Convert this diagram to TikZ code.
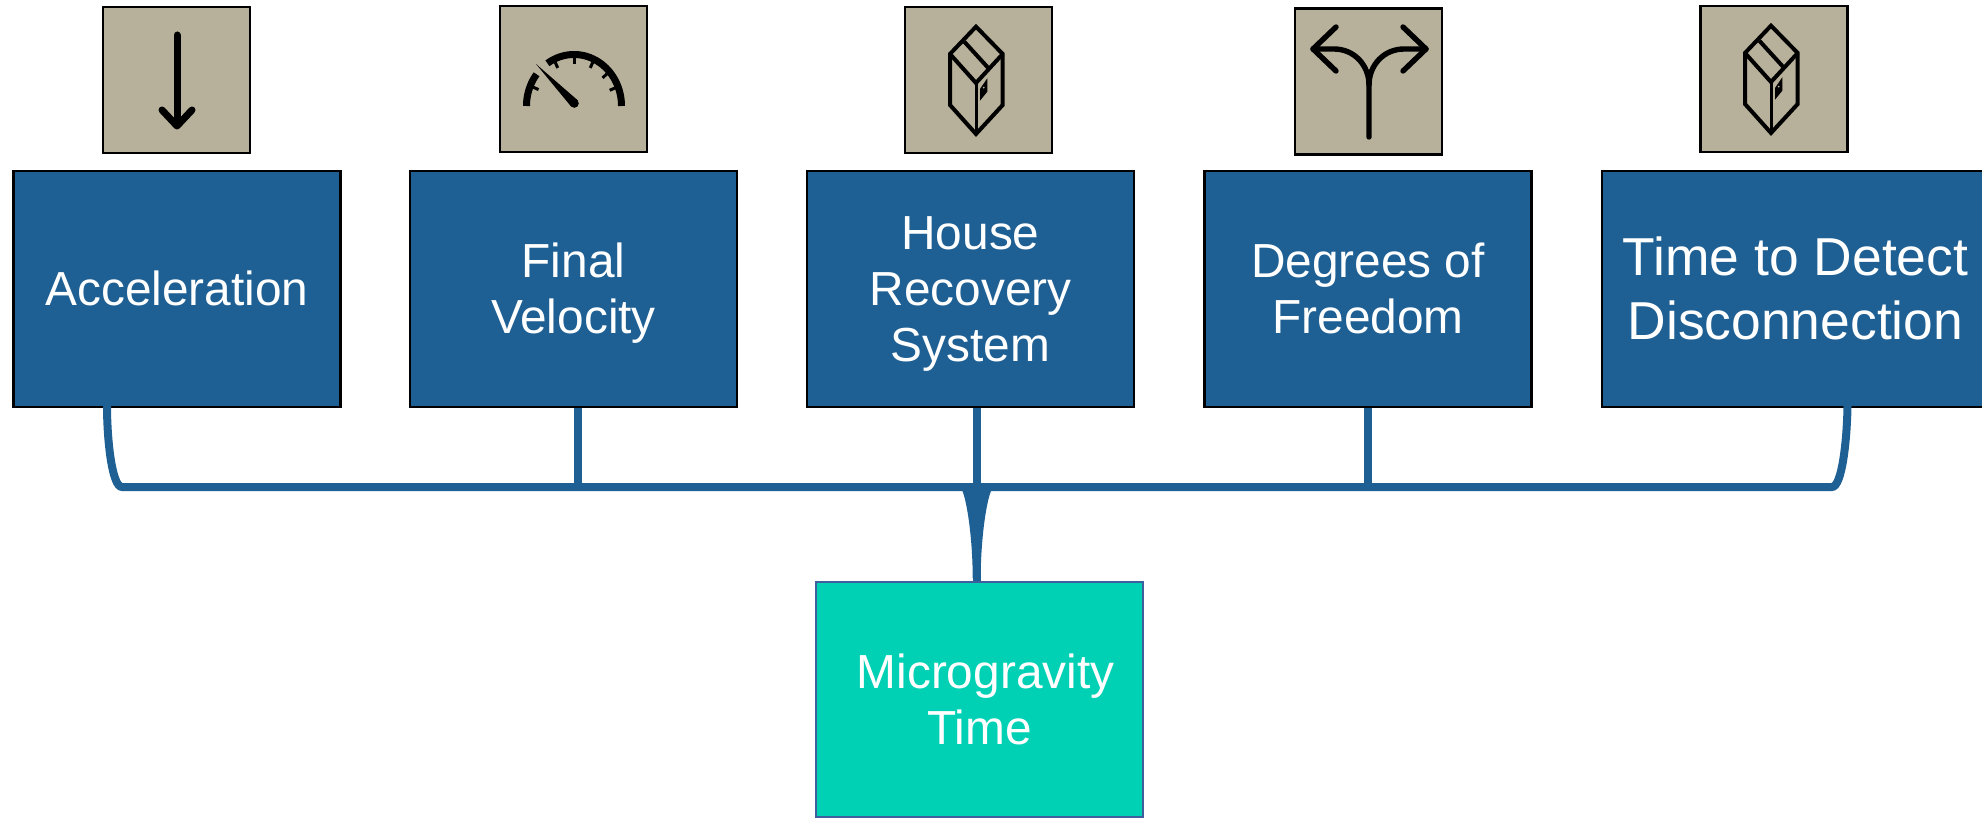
\documentclass[tikz,border=0pt]{standalone}
\usepackage{fontspec}
\setmainfont{Liberation Sans}
\definecolor{boxblue}{HTML}{1F6094}
\definecolor{iconbeige}{HTML}{B7B09A}
\definecolor{mintfill}{HTML}{00D1B5}
\definecolor{mintedge}{HTML}{3F5E9E}
\newcommand{\lna}{\rule[-11pt]{0pt}{56pt}}
\newcommand{\lnb}{\rule[-13pt]{0pt}{64pt}}
\tikzset{
  factor/.style={rectangle,draw=black,line width=2.4pt,fill=boxblue,text=white,inner sep=0pt,
    minimum width=327pt,minimum height=236pt,align=center,font=\fontsize{47.8}{56}\selectfont},
  iconbox/.style={rectangle,draw=black,line width=2.4pt,fill=iconbeige,inner sep=0pt,
    minimum width=147pt,minimum height=146pt},
  result/.style={rectangle,draw=mintedge,line width=2pt,fill=mintfill,text=white,inner sep=0pt,
    minimum width=327pt,minimum height=235pt,align=center,font=\fontsize{47.8}{56}\selectfont},
  link/.style={draw=boxblue,line width=8pt},
  glyph/.style={draw=black,line cap=round,line join=round},
  cabinet/.pic={
    \draw[black,line width=4pt,line join=miter]
      (0,-56.3)--(-26,-29)--(-26,22)--(0,51)--(26.7,22)--(26.7,-29)--cycle;
    \draw[black,line width=4pt] (-26,-29)--(0,0)--(26.7,-29);
    \draw[black,line width=4pt] (-11.7,-41.3)--(12,-15.3);
    \draw[black,line width=3pt] (0,0)--(0,51);
    \fill[black] (4,6)--(11.3,-4.7)--(11.3,8.7)--(4,17.7)--cycle;
    \fill[iconbeige] (7.7,4.7) circle (1pt);
  },
}
\begin{document}
\begin{tikzpicture}[x=1pt,y=-1pt]
\useasboundingbox (0,0) rectangle (1982,818);
\clip (0,0) rectangle (1982,818);

\node[factor] (a) at (177,289) {\lna Acceleration};
\node[factor] (b) at (573.5,289) {\lna Final\\\lna Velocity};
\node[factor] (c) at (970.5,289) {\lna House\\\lna Recovery\\\lna System};
\node[factor] (d) at (1368,289) {\lna Degrees of\\\lna Freedom};
\node[factor,minimum width=387pt,font=\fontsize{53.4}{64}\selectfont] (e) at (1795.5,289) {\lnb Time to Detect\\\lnb Disconnection};
\node[result] (m) at (979.5,699.5) {\lna\hspace*{12pt}Microgravity\\\lna Time};

\node[iconbox] (ia) at (176.5,80) {};
\node[iconbox] (ib) at (573.5,79) {};
\node[iconbox] (ic) at (978.75,80) {};
\node[iconbox] (id) at (1368.5,81.5) {};
\node[iconbox] (ie) at (1774,79) {};

% tree connectors
\coordinate (J) at (976.7,487);
\path[link] ([xshift=-70pt,yshift=2.5pt]a.south) .. controls (107,440) and (112,487) .. (122,487) -- (J);
\path[link] ([xshift=4pt]b.south) -- (b.south -| 577.5,487) -- (577.5,487);
\path[link] ([xshift=6.2pt]c.south) -- ([xshift=-2.8pt]m.north);
\path[link] (d.south) -- (1368,487);
\path[link] ([xshift=52pt,yshift=2.5pt]e.south) .. controls (1847,440) and (1842,487) .. (1832,487) -- (J);
\fill[boxblue] (961,488) .. controls (967,498) and (972.7,540) .. (972.7,578) -- (980.7,578) .. controls (980.7,540) and (986.4,498) .. (992.4,488) -- cycle;

% arrow-down glyph
\draw[glyph,line width=7pt] (177,35) -- (177,125);
\draw[glyph,line width=7pt] (162,110) -- (177,126) -- (192,110);

% gauge glyph
\draw[black,line width=7pt] plot[domain=0:124,samples=50] ({574+47.5*cos(\x)},{106-51.5*sin(\x)});
\draw[black,line width=7pt] plot[domain=142:180,samples=20] ({574+47.5*cos(\x)},{106-51.5*sin(\x)});
\foreach \t in {22,42,65,90,115,157}
  \draw[black,line width=3pt] ({574+47.5*cos(\t)},{106-51.5*sin(\t)}) -- ({574+38.5*cos(\t)},{106-42*sin(\t)});
\fill[black] (536,64) -- (577.5,100.1) -- (571.1,106.5) -- cycle;
\fill[black] (574.3,103.3) circle (4.5pt);

% cabinet glyphs
\pic at (976,83) {cabinet};
\pic at (1771,82) {cabinet};

% forked-arrow glyph
\draw[glyph,line width=5.4pt] (1369,137) -- (1369,85) .. controls (1369,65) and (1354,49) .. (1334,49) -- (1313,49);
\draw[glyph,line width=5.4pt] (1369,85) .. controls (1369,65) and (1384,49) .. (1404,49) -- (1426,49);
\draw[glyph,line width=5.4pt] (1336,27) -- (1313,49) -- (1336,71);
\draw[glyph,line width=5.4pt] (1403,27) -- (1426,49) -- (1403,71);
\end{tikzpicture}
\end{document}
